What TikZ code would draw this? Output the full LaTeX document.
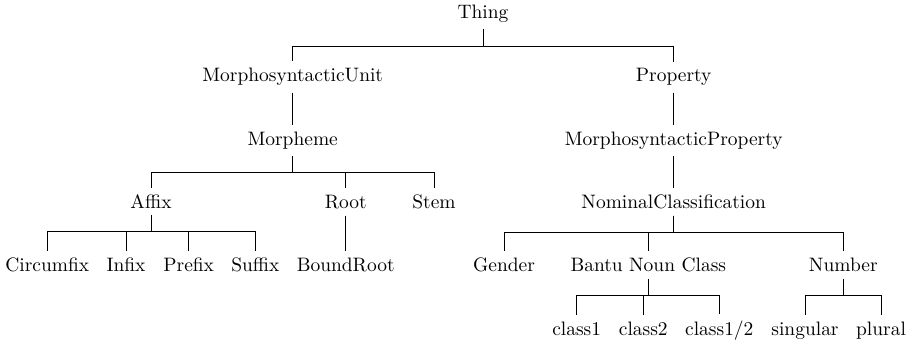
\documentclass[tikz,border=0pt]{standalone}
\usetikzlibrary{positioning}

\tikzset{
  treenode/.style={anchor=base, inner sep=0.3333em},
  treeedge/.style={draw=black, line width=0.4pt},
}

% draw forked edges from a parent node to a list of child nodes
\newcommand\forkto[2]{%
  \foreach \c in {#2}{%
    \draw[treeedge] (#1.south) -- ++(0,-8.5pt) -| (\c.north);%
  }%
}

\begin{document}
\begin{tikzpicture}[x=0.5141pt, y=-0.5141pt]
  \useasboundingbox (0,0) rectangle (918,343);

  % level 0
  \node[treenode] (thing) at (483,18.5) {Thing};

  % level 1
  \node[treenode] (msu)  at (292.7,81.8) {MorphosyntacticUnit};
  \node[treenode] (prop) at (673.7,81.8) {Property};

  % level 2
  \node[treenode] (morpheme) at (292.7,145.1) {Morpheme};
  \node[treenode] (msp)      at (673.7,145.1) {MorphosyntacticProperty};

  % level 3
  \node[treenode] (affix)    at (151,208.4)   {Affix};
  \node[treenode] (root)     at (345.7,208.4) {Root};
  \node[treenode] (stem)     at (434,208.4)   {Stem};
  \node[treenode] (nomclass) at (673.7,208.4) {NominalClassification};

  % level 4
  \node[treenode] (circumfix) at (47.3,271.7)  {Circumfix};
  \node[treenode] (infix)     at (126,271.7)   {Infix};
  \node[treenode] (prefix)    at (188.7,271.7) {Prefix};
  \node[treenode] (suffix)    at (255.3,271.7) {Suffix};
  \node[treenode] (boundroot) at (345.7,271.7) {BoundRoot};
  \node[treenode] (gender)    at (504,271.7)   {Gender};
  \node[treenode] (bantu)     at (648.3,271.7) {Bantu Noun Class};
  \node[treenode] (number)    at (843.3,271.7) {Number};

  % level 5
  \node[treenode] (classone)    at (576.7,335) {class1};
  \node[treenode] (classtwo)    at (643.3,335) {class2};
  \node[treenode] (classonetwo) at (719.3,335) {class1/2};
  \node[treenode] (singular)    at (805,335)   {singular};
  \node[treenode] (plural)      at (881,335)   {plural};

  % edges
  \forkto{thing}{msu,prop}
  \forkto{msu}{morpheme}
  \forkto{prop}{msp}
  \forkto{msp}{nomclass}
  \forkto{morpheme}{affix,root,stem}
  \forkto{affix}{circumfix,infix,prefix,suffix}
  \forkto{root}{boundroot}
  \forkto{nomclass}{gender,bantu,number}
  \forkto{bantu}{classone,classtwo,classonetwo}
  \forkto{number}{singular,plural}
\end{tikzpicture}
\end{document}
